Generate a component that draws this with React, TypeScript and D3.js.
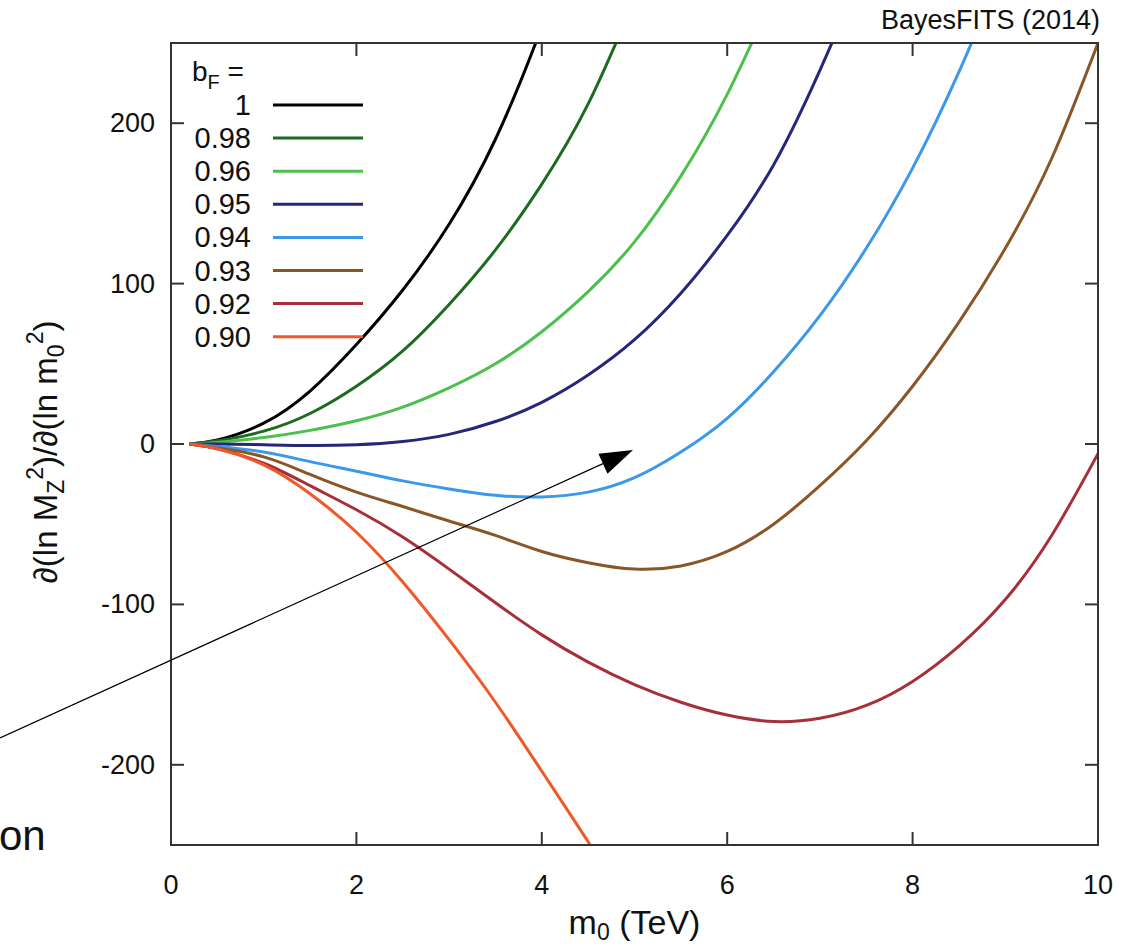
import React from 'react';
import * as d3 from 'd3';

const m0 = [0.2, 0.5, 1, 1.5, 2, 2.5, 3, 3.5, 4, 4.5, 5, 5.5, 6, 6.5, 7, 7.5, 8, 8.5, 9, 9.5, 10];

const b100 = [0, 2.5, 13, 33, 62, 96, 137, 190, 260, 340];
const b098 = [0, 2, 8, 19, 36, 58, 87, 121, 162, 212, 277];
const b096 = [0, 1, 4, 8.5, 14.5, 23, 35, 50, 70, 95, 126, 167, 218, 280];
const b095 = [0, 0, -0.5, -1, -0.5, 1.5, 6, 14, 26, 43, 65, 94, 130, 174, 233, 300];
const b094 = [0, -1.5, -5, -11, -17, -23, -28, -32, -33, -30, -21, -5, 16, 45, 80, 122, 172, 232, 300];
const b093 = [0, -2.5, -8, -19, -30, -39, -48, -57, -67, -74, -78, -76, -67, -50, -26, 2, 36, 76, 122, 178, 250];
const b092 = [0, -3, -12, -26, -41, -58, -78, -99, -119, -136, -150, -161, -169, -173, -171, -163, -148, -126, -97, -57, -6];
const b090 = [0, -3, -13, -31, -55, -86, -122, -161, -204, -248, -294];

const legendLabels = ['1', '0.98', '0.96', '0.95', '0.94', '0.93', '0.92', '0.90'];
const seriesValues = [b100, b098, b096, b095, b094, b093, b092, b090];
const seriesColors = ['#000000', '#1d6b1f', '#4cc04c', '#26267a', '#3b98ea', '#8a5628', '#a6303a', '#f0582a'];

const xTicks = [0, 2, 4, 6, 8, 10];
const yTicks = [-200, -100, 0, 100, 200];

export default function App() {
  const W = 1134, H = 947;
  const left = 171, right = 1098, top = 43, bottom = 845;
  const x = d3.scaleLinear().domain([0, 10]).range([left, right]);
  const y = d3.scaleLinear().domain([-250, 250]).range([bottom, top]);
  const line = d3.line<[number, number]>()
    .x(d => x(d[0]))
    .y(d => y(d[1]))
    .curve(d3.curveNatural);
  const font = 'Liberation Sans, Arial, Helvetica, sans-serif';
  const tickLen = 13;

  // arrow
  const ax0 = 0, ay0 = 738, ax1 = 633, ay1 = 450;
  const ang = Math.atan2(ay1 - ay0, ax1 - ax0);
  const hl = 33, hw = 11;
  const bx = ax1 - hl * Math.cos(ang), by = ay1 - hl * Math.sin(ang);
  const p1 = [bx + hw * Math.sin(ang), by - hw * Math.cos(ang)];
  const p2 = [bx - hw * Math.sin(ang), by + hw * Math.cos(ang)];

  const legendY0 = 105, legendDy = 33.1;

  return (
    <svg width={W} height={H} style={{ position: 'absolute', left: 0, top: 0, background: '#fff' }} fontFamily={font}>
      <defs>
        <clipPath id="plotclip">
          <rect x={left} y={top} width={right - left} height={bottom - top} />
        </clipPath>
      </defs>
      <rect x={0} y={0} width={W} height={H} fill="#fff" />

      {/* curves */}
      <g clipPath="url(#plotclip)">
        {seriesValues.map((vals, i) => (
          <path key={i}
            d={line(vals.map((v, j) => [m0[j], v] as [number, number])) || ''}
            fill="none" stroke={seriesColors[i]} strokeWidth={3} strokeLinejoin="round" />
        ))}
      </g>

      {/* frame */}
      <rect x={left} y={top} width={right - left} height={bottom - top} fill="none" stroke="#333" strokeWidth={2} />
      {xTicks.map(t => (
        <g key={'xt' + t}>
          <line x1={x(t)} x2={x(t)} y1={bottom} y2={bottom - tickLen} stroke="#333" strokeWidth={2} />
          <line x1={x(t)} x2={x(t)} y1={top} y2={top + tickLen} stroke="#333" strokeWidth={2} />
          <text x={x(t)} y={894} textAnchor="middle" fontSize={27} fill="#111">{t}</text>
        </g>
      ))}
      {yTicks.map(t => (
        <g key={'yt' + t}>
          <line x1={left} x2={left + tickLen} y1={y(t)} y2={y(t)} stroke="#333" strokeWidth={2} />
          <line x1={right} x2={right - tickLen} y1={y(t)} y2={y(t)} stroke="#333" strokeWidth={2} />
          <text x={155} y={y(t) + 9} textAnchor="end" fontSize={27} fill="#111">{t}</text>
        </g>
      ))}

      {/* axis labels */}
      <text x={(left + right) / 2} y={934} textAnchor="middle" fontSize={34} fill="#111">
        m<tspan fontSize={23} dy={6}>0</tspan><tspan dy={-6}> (TeV)</tspan>
      </text>
      <text transform={`translate(57,452) rotate(-90)`} textAnchor="middle" fontSize={33} fill="#111">
        ∂(ln M<tspan fontSize={23} dy={7}>Z</tspan><tspan fontSize={23} dy={-21}>2</tspan><tspan dy={14}>)/∂(ln m</tspan><tspan fontSize={23} dy={7}>0</tspan><tspan fontSize={23} dy={-21}>2</tspan><tspan dy={14}>)</tspan>
      </text>

      {/* top label */}
      <text x={1100} y={29} textAnchor="end" fontSize={27} fill="#111">BayesFITS (2014)</text>

      {/* legend */}
      <text x={192} y={81} fontSize={28} fill="#111">b<tspan fontSize={20} dy={8}>F</tspan><tspan dy={-8}> =</tspan></text>
      {legendLabels.map((lab, i) => (
        <g key={'lg' + i}>
          <text x={251} y={legendY0 + i * legendDy + 10} textAnchor="end" fontSize={29} fill="#111">{lab}</text>
          <line x1={273} x2={363} y1={legendY0 + i * legendDy} y2={legendY0 + i * legendDy} stroke={seriesColors[i]} strokeWidth={3} />
        </g>
      ))}

      {/* arrow annotation */}
      <line x1={ax0} y1={ay0} x2={bx} y2={by} stroke="#000" strokeWidth={1.2} />
      <polygon points={`${ax1},${ay1} ${p1[0]},${p1[1]} ${p2[0]},${p2[1]}`} fill="#000" />
      <text x={-1} y={850} fontSize={42} fill="#111">on</text>
    </svg>
  );
}
